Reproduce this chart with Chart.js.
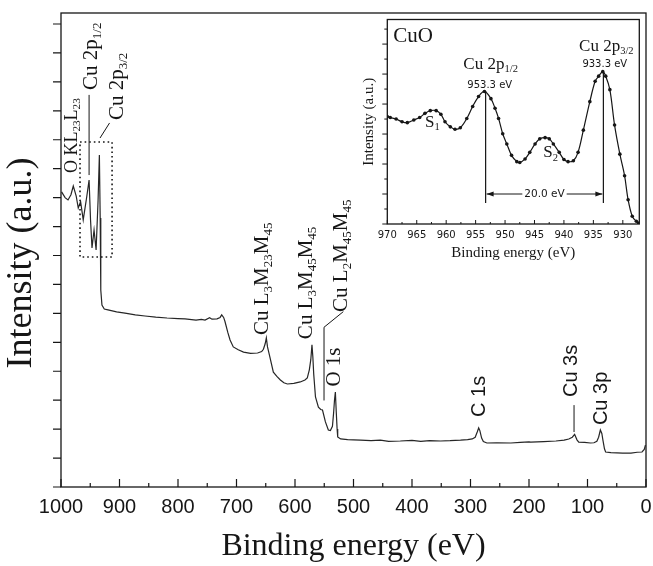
<!DOCTYPE html>
<html lang="en">
<head>
  <meta charset="UTF-8">
  <title>XPS survey of CuO</title>
  <script src="https://cdn.jsdelivr.net/npm/chart.js"></script>
  <style>
    body { margin: 0; background: #fff; }
    .wrap { position: relative; width: 653px; height: 566px; }
    #survey { position: absolute; left: 0; top: 0; }
    #inset { position: absolute; left: 350px; top: 14px; } /* inset sits over the upper right corner */
  </style>
</head>
<body>
  <div class="wrap">
    <canvas id="survey" width="653" height="566"></canvas>
    <canvas id="inset" width="303" height="256"></canvas>
  </div>

  <script>
    // --- survey spectrum (main panel), binding energy in eV, intensity in arbitrary units
    const surveyEnergy = [999, 993, 988, 983, 979, 974, 970.5, 966.5, 962, 956, 952, 949.5, 947, 943.5, 940, 936.6, 934.4, 933, 932, 930,
      926, 919.7, 905, 890.6, 873, 856.4, 838, 818.8, 800, 788, 769.2, 760, 753.8, 746, 741.9, 733.3, 728, 725.3, 722, 719.7,
      715, 711, 705.5, 697, 688, 676, 664, 657, 654, 651, 649, 647, 643, 637, 631, 625, 619, 613, 602, 591,
      583, 579, 575.5, 573, 571, 569.5, 568, 565, 560, 556, 553, 548, 543, 539.5, 536, 534, 532.5, 531, 529.5, 528,
      527, 522, 510, 500, 488, 470, 454, 440, 420, 400, 385, 370, 351, 335, 317, 305, 297, 292, 288.5, 286,
      284, 281, 278, 272, 255, 231, 215, 200, 197, 175, 154, 140, 132, 126, 122, 118, 115, 105, 95, 89,
      84, 81, 78, 75.5, 73.5, 71, 69, 60, 50, 40, 25.7, 15, 6.8, 3, 1];
    const surveyIntensity = [10.2, 10.0, 9.92, 10.1, 10.4, 10.05, 9.64, 9.86, 9.23, 10.03, 10.61, 9.23, 8.26, 8.88, 8.19, 9.92, 11.47, 9.3, 6.81, 6.29,
      6.15, 6.12, 6.05, 6.01, 5.95, 5.91, 5.87, 5.84, 5.82, 5.81, 5.77, 5.79, 5.77, 5.85, 5.8, 5.81, 5.86, 5.95, 5.86, 5.72,
      5.35, 5.08, 4.84, 4.74, 4.66, 4.62, 4.63, 4.68, 4.76, 4.95, 5.15, 4.84, 4.5, 3.97, 3.82, 3.7, 3.6, 3.56, 3.58, 3.63,
      3.7, 3.77, 4.05, 4.4, 4.91, 4.5, 3.9, 3.11, 2.76, 2.68, 2.66, 2.25, 1.97, 1.95, 2.1, 2.56, 3.0, 3.28, 2.6, 2.0,
      1.73, 1.66, 1.64, 1.63, 1.62, 1.6, 1.62, 1.58, 1.59, 1.61, 1.58, 1.6, 1.59, 1.6, 1.62, 1.64, 1.66, 1.72, 1.9, 2.04,
      1.95, 1.69, 1.57, 1.52, 1.53, 1.52, 1.54, 1.56, 1.55, 1.57, 1.59, 1.62, 1.66, 1.72, 1.82, 1.63, 1.55, 1.54, 1.52, 1.53,
      1.58, 1.72, 1.97, 1.85, 1.6, 1.32, 1.21, 1.19, 1.18, 1.17, 1.17, 1.2, 1.21, 1.3, 1.45];
    const surveyTicks = [1000, 900, 800, 700, 600, 500, 400, 300, 200, 100, 0];

    // --- Cu 2p region of CuO (inset)
    const cuoEnergy = [970.0, 969.5, 968.5, 967.5, 966.6, 965.5, 964.5, 963.6, 962.7, 961.7, 960.9, 960.2, 959.3, 958.5, 957.6,
      956.5, 955.5, 954.5, 953.5, 952.4, 951.7, 951.1, 950.4, 949.7, 948.9, 948.0, 947.5, 946.6, 945.8, 944.9,
      944.1, 943.2, 942.5, 941.8, 940.8, 940.0, 939.3, 938.4, 937.6, 936.7, 935.6, 934.7, 934.1, 933.4, 932.9,
      932.2, 931.4, 930.5, 929.7, 929.1, 928.4, 927.7, 927.2];
    const cuoIntensity = [3.58, 3.55, 3.5, 3.41, 3.38, 3.47, 3.55, 3.69, 3.78, 3.78, 3.66, 3.41, 3.24, 3.16, 3.21,
      3.52, 3.92, 4.25, 4.42, 4.18, 3.86, 3.52, 3.01, 2.67, 2.29, 2.08, 2.05, 2.17, 2.39, 2.67,
      2.84, 2.88, 2.84, 2.67, 2.39, 2.15, 2.08, 2.11, 2.39, 3.13, 4.08, 4.76, 4.93, 5.08, 4.93,
      4.48, 3.3, 2.33, 1.61, 0.81, 0.26, 0.09, 0.03];
    const cuoTicks = [970, 965, 960, 955, 950, 945, 940, 935, 930];
    const cuoPeaks = [953.3, 933.3]; // Cu 2p1/2 and Cu 2p3/2

    const SERIF = '"Liberation Serif", "Times New Roman", serif';
    const SANS = '"Liberation Sans", Arial, sans-serif';
    const SMALL = '"DejaVu Sans", sans-serif';
    const INK = '#161616';

    Chart.defaults.font.family = SANS;
    Chart.defaults.color = INK;

    // peak labels of the survey, placed in data units (eV, a.u.), drawn rotated
    const surveyLabels = [
      { e: 973.2, i: 10.85, size: 18, font: SERIF, parts: [['O KL', 0], ['23', 1], ['L', 0], ['23', 1]] },
      { e: 939, i: 13.72, size: 21, font: SERIF, parts: [['Cu 2p', 0], ['1/2', 1]] },
      { e: 894, i: 12.68, size: 21, font: SERIF, parts: [['Cu 2p', 0], ['3/2', 1]] },
      { e: 646, i: 5.25, size: 21, font: SERIF, parts: [['Cu L', 0], ['3', 1], ['M', 0], ['23', 1], ['M', 0], ['45', 1]] },
      { e: 571, i: 5.11, size: 21, font: SERIF, parts: [['Cu L', 0], ['3', 1], ['M', 0], ['45', 1], ['M', 0], ['45', 1]] },
      { e: 511, i: 6.05, size: 21, font: SERIF, parts: [['Cu L', 0], ['2', 1], ['M', 0], ['45', 1], ['M', 0], ['45', 1]] },
      { e: 523, i: 3.47, size: 21, font: SERIF, parts: [['O 1s', 0]] },
      { e: 275, i: 2.42, size: 20, font: SANS, parts: [['C 1s', 0]] },
      { e: 118, i: 3.11, size: 20, font: SANS, parts: [['Cu 3s', 0]] },
      { e: 66.7, i: 2.14, size: 20, font: SANS, parts: [['Cu 3p', 0]] }
    ];
    const surveyLeaders = [
      [[952, 10.78], [952, 13.55]],
      [[933.3, 12.06], [917, 12.58]],
      [[517.4, 6.06], [550.4, 5.52], [550.4, 2.99]],
      [[123, 2.83], [123, 1.9]]
    ];
    const surveyBox = { e1: 967.5, e2: 912.7, i1: 11.92, i2: 7.95 }; // dotted frame round the Cu 2p region

    // labels of the inset, data units (eV, a.u.)
    const insetLabels = [
      { e: 969.0, i: 6.07, size: 21, font: SERIF, align: 'left', parts: [['CuO', 0]] },
      { e: 952.45, i: 5.17, size: 17, font: SERIF, align: 'center', parts: [['Cu 2p', 0], ['1/2', 1]] },
      { e: 952.6, i: 4.53, size: 10, font: SMALL, align: 'center', parts: [['953.3 eV', 0]] },
      { e: 932.8, i: 5.78, size: 17, font: SERIF, align: 'center', parts: [['Cu 2p', 0], ['3/2', 1]] },
      { e: 933.06, i: 5.24, size: 10, font: SMALL, align: 'center', parts: [['933.3 eV', 0]] },
      { e: 963.6, i: 3.24, size: 17, font: SERIF, align: 'left', parts: [['S', 0], ['1', 1]] },
      { e: 943.5, i: 2.22, size: 17, font: SERIF, align: 'left', parts: [['S', 0], ['2', 1]] }
    ];

    function pts(xs, ys) {
      return xs.map((x, k) => ({ x: x, y: ys[k] }));
    }

    // text with subscripts, optionally turned to read upwards
    function richText(ctx, x, y, parts, size, family, align, rotate) {
      ctx.save();
      ctx.translate(x, y);
      if (rotate) ctx.rotate(-Math.PI / 2);
      ctx.textAlign = 'left';
      ctx.textBaseline = 'alphabetic';
      ctx.fillStyle = INK;
      const sub = size * 0.62;
      let w = 0;
      for (const [t, s] of parts) {
        ctx.font = (s ? sub : size) + 'px ' + family;
        w += ctx.measureText(t).width;
      }
      let cx = align === 'center' ? -w / 2 : 0;
      for (const [t, s] of parts) {
        ctx.font = (s ? sub : size) + 'px ' + family;
        ctx.fillText(t, cx, s ? size * 0.2 : 0);
        cx += ctx.measureText(t).width;
      }
      ctx.restore();
    }

    function polyline(ctx, x, y, path) {
      ctx.beginPath();
      path.forEach(([e, i], k) => {
        const px = x.getPixelForValue(e), py = y.getPixelForValue(i);
        if (k === 0) ctx.moveTo(px, py); else ctx.lineTo(px, py);
      });
      ctx.stroke();
    }

    // frame, inward x ticks, outward y ticks, labels for the survey
    const surveyDecor = {
      id: 'surveyDecor',
      afterDraw(chart) {
        const { ctx, chartArea: a, scales: { x, y } } = chart;
        ctx.save();
        ctx.strokeStyle = INK;
        ctx.lineWidth = 1.3;
        ctx.strokeRect(a.left, a.top, a.right - a.left, a.bottom - a.top);

        ctx.lineWidth = 1.2;
        ctx.beginPath();
        surveyTicks.forEach(v => {
          const px = x.getPixelForValue(v);
          ctx.moveTo(px, a.bottom); ctx.lineTo(px, a.bottom - 8);
          if (v > 0) {
            const pm = x.getPixelForValue(v - 50);
            ctx.moveTo(pm, a.bottom); ctx.lineTo(pm, a.bottom - 4);
          }
        });
        for (let v = 0; v <= 16; v++) {
          const py = y.getPixelForValue(v);
          ctx.moveTo(a.left, py); ctx.lineTo(a.left - 8, py);
        }
        ctx.stroke();

        // y title drawn by hand so it sits where the original has it
        ctx.save();
        ctx.translate(22, 263);
        ctx.rotate(-Math.PI / 2);
        ctx.font = '36px ' + SERIF;
        ctx.fillStyle = INK;
        ctx.textAlign = 'center';
        ctx.textBaseline = 'middle';
        ctx.fillText('Intensity (a.u.)', 0, 0);
        ctx.restore();

        ctx.lineWidth = 1;
        surveyLeaders.forEach(p => polyline(ctx, x, y, p));

        ctx.setLineDash([1.6, 3]);
        ctx.lineWidth = 1.6;
        const bx1 = x.getPixelForValue(surveyBox.e1), bx2 = x.getPixelForValue(surveyBox.e2);
        const by1 = y.getPixelForValue(surveyBox.i1), by2 = y.getPixelForValue(surveyBox.i2);
        ctx.strokeRect(bx1, by1, bx2 - bx1, by2 - by1);
        ctx.setLineDash([]);

        surveyLabels.forEach(l => {
          richText(ctx, x.getPixelForValue(l.e), y.getPixelForValue(l.i), l.parts, l.size, l.font, 'left', true);
        });
        ctx.restore();
      }
    };

    const insetDecor = {
      id: 'insetDecor',
      afterDraw(chart) {
        const { ctx, chartArea: a, scales: { x, y } } = chart;
        ctx.save();
        ctx.strokeStyle = INK;
        ctx.lineWidth = 1.3;
        ctx.strokeRect(a.left, a.top, a.right - a.left, a.bottom - a.top);

        ctx.lineWidth = 1;
        ctx.beginPath();
        cuoTicks.forEach(v => {
          const px = x.getPixelForValue(v);
          ctx.moveTo(px, a.bottom); ctx.lineTo(px, a.bottom - 4);
          const pm = x.getPixelForValue(v - 2.5);
          if (pm < a.right) { ctx.moveTo(pm, a.bottom); ctx.lineTo(pm, a.bottom - 2); }
        });
        for (let v = 0; v <= 6.5; v += 0.5) {
          const py = y.getPixelForValue(v);
          ctx.moveTo(a.left, py); ctx.lineTo(a.left - (v % 1 === 0 ? 5 : 3), py);
        }
        ctx.stroke();

        // vertical markers at both peaks
        ctx.lineWidth = 1.2;
        polyline(ctx, x, y, [[cuoPeaks[0], 4.42], [cuoPeaks[0], 0.7]]);
        polyline(ctx, x, y, [[cuoPeaks[1], 5.08], [cuoPeaks[1], 0.7]]);

        // spin-orbit splitting arrow
        const p1 = x.getPixelForValue(cuoPeaks[0]), p2 = x.getPixelForValue(cuoPeaks[1]);
        const ay = y.getPixelForValue(1.0);
        const mid = x.getPixelForValue((cuoPeaks[0] + cuoPeaks[1]) / 2);
        const txt = (cuoPeaks[0] - cuoPeaks[1]).toFixed(1) + ' eV';
        ctx.font = '10.5px ' + SMALL;
        const tw = ctx.measureText(txt).width;
        ctx.lineWidth = 1;
        ctx.beginPath();
        ctx.moveTo(p1 + 1, ay); ctx.lineTo(mid - tw / 2 - 2, ay);
        ctx.moveTo(mid + tw / 2 + 2, ay); ctx.lineTo(p2 - 1, ay);
        ctx.stroke();
        ctx.fillStyle = INK;
        ctx.beginPath();
        ctx.moveTo(p1 + 1, ay); ctx.lineTo(p1 + 8, ay - 2.5); ctx.lineTo(p1 + 8, ay + 2.5); ctx.closePath();
        ctx.moveTo(p2 - 1, ay); ctx.lineTo(p2 - 8, ay - 2.5); ctx.lineTo(p2 - 8, ay + 2.5); ctx.closePath();
        ctx.fill();
        ctx.textAlign = 'center';
        ctx.textBaseline = 'middle';
        ctx.fillText(txt, mid, ay);

        insetLabels.forEach(l => {
          richText(ctx, x.getPixelForValue(l.e), y.getPixelForValue(l.i), l.parts, l.size, l.font, l.align, false);
        });
        ctx.restore();
      }
    };

    new Chart(document.getElementById('survey'), {
      type: 'scatter',
      data: {
        datasets: [{
          data: pts(surveyEnergy, surveyIntensity),
          showLine: true,
          borderColor: '#262626',
          borderWidth: 1.2,
          pointRadius: 0,
          tension: 0
        }]
      },
      options: {
        responsive: false,
        animation: false,
        layout: { padding: { top: 13, right: 7, left: 0, bottom: 0 } },
        plugins: { legend: { display: false }, tooltip: { enabled: false } },
        scales: {
          x: {
            type: 'linear',
            reverse: true,
            min: 0,
            max: 1000,
            afterBuildTicks: s => { s.ticks = surveyTicks.map(v => ({ value: v })); },
            ticks: {
              callback: v => String(v),
              autoSkip: false,
              maxRotation: 0,
              padding: 0,
              color: INK,
              font: { family: SANS, size: 20 }
            },
            // grid hidden; tickLength only spaces the labels away from the axis
            grid: { display: false, drawTicks: true, tickLength: 8 },
            border: { display: false },
            title: {
              display: true,
              text: 'Binding energy (eV)',
              color: INK,
              font: { family: SERIF, size: 32 },
              padding: { top: 0, bottom: 0 }
            },
            afterFit: s => { s.height = 79; }
          },
          y: {
            min: 0,
            max: 16.38,
            ticks: { display: false },
            grid: { display: false, drawTicks: false, tickLength: 0 },
            border: { display: false },
            afterFit: s => { s.width = 61; }
          }
        }
      },
      plugins: [surveyDecor]
    });

    new Chart(document.getElementById('inset'), {
      type: 'scatter',
      data: {
        datasets: [{
          data: pts(cuoEnergy, cuoIntensity),
          showLine: true,
          borderColor: INK,
          borderWidth: 1.2,
          pointRadius: 1.8,
          pointBackgroundColor: INK,
          pointBorderWidth: 0,
          tension: 0.35
        }]
      },
      options: {
        responsive: false,
        animation: false,
        layout: { padding: { top: 5.5, right: 13.7, left: 0, bottom: 0 } },
        plugins: { legend: { display: false }, tooltip: { enabled: false } },
        scales: {
          x: {
            type: 'linear',
            reverse: true,
            min: 927.2,
            max: 970,
            afterBuildTicks: s => { s.ticks = cuoTicks.map(v => ({ value: v })); },
            ticks: {
              callback: v => String(v),
              autoSkip: false,
              maxRotation: 0,
              padding: 0,
              color: INK,
              font: { family: SMALL, size: 10 }
            },
            grid: { display: false, drawTicks: true, tickLength: 5 },
            border: { display: false },
            title: {
              display: true,
              text: 'Binding energy (eV)',
              color: INK,
              font: { family: SERIF, size: 15 },
              padding: { top: 0, bottom: 8 }
            },
            afterFit: s => { s.height = 46; }
          },
          y: {
            min: 0,
            max: 6.82,
            ticks: { display: false },
            grid: { display: false, drawTicks: false, tickLength: 0 },
            border: { display: false },
            title: {
              display: true,
              text: 'Intensity (a.u.)',
              color: INK,
              font: { family: SERIF, size: 15 },
              padding: { top: 10, bottom: 0 }
            },
            afterFit: s => { s.width = 37.3; }
          }
        }
      },
      plugins: [insetDecor]
    });
  </script>
</body>
</html>
